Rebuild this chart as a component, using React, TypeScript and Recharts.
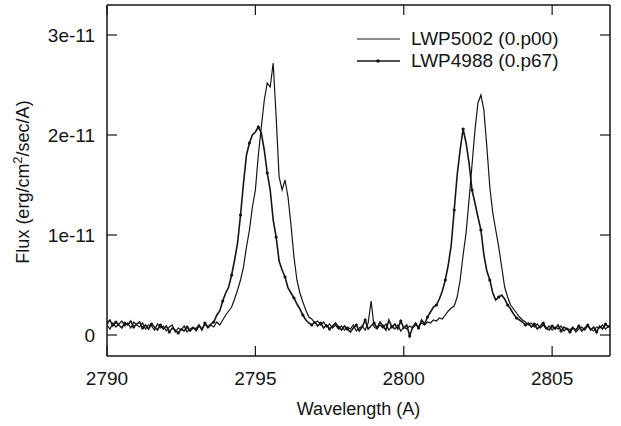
import React from "react";
import { LineChart, Line, XAxis, YAxis, Label } from "recharts";

// wavelength grid (Angstrom), 0.1 A sampling from 2790.0 to 2807.0
const wavelengthStart = 2790.0;
const wavelengthStep = 0.1;

// Flux in units of 1e-11 erg/cm^2/sec/A
const fluxLWP5002 = [
  0.10, 0.06, 0.12, 0.08, 0.11, 0.14, 0.09, 0.12, 0.07, 0.13,
  0.10, 0.08, 0.12, 0.06, 0.10, 0.09, 0.05, 0.11, 0.07, 0.09,
  0.04, 0.08, 0.10, 0.03, 0.07, 0.05, 0.09, 0.03, 0.06, 0.08,
  0.04, 0.09, 0.06, 0.11, 0.07, 0.10, 0.08, 0.13, 0.10, 0.15,
  0.20, 0.24, 0.28, 0.36, 0.45, 0.55, 0.68, 0.88, 1.05, 1.28,
  1.45, 1.80, 2.08, 2.35, 2.52, 2.48, 2.72, 2.18, 1.58, 1.45,
  1.55, 1.38, 1.10, 0.78, 0.55, 0.42, 0.33, 0.25, 0.18, 0.16,
  0.12, 0.14, 0.10, 0.13, 0.08, 0.11, 0.07, 0.10, 0.06, 0.09,
  0.05, 0.08, 0.06, 0.10, 0.04, 0.07, 0.09, 0.05, 0.12, 0.34,
  0.08, 0.06, 0.10, 0.07, 0.11, 0.05, 0.09, 0.06, 0.10, 0.04,
  0.08, 0.06, 0.09, 0.07, 0.10, 0.08, 0.12, 0.10, 0.13, 0.12,
  0.15, 0.14, 0.17, 0.16, 0.20, 0.24, 0.27, 0.29, 0.38, 0.55,
  0.80, 1.02, 1.35, 1.70, 2.05, 2.32, 2.40, 2.25, 1.88, 1.48,
  1.22, 1.05, 0.88, 0.68, 0.48, 0.38, 0.30, 0.26, 0.22, 0.18,
  0.15, 0.13, 0.10, 0.12, 0.08, 0.11, 0.07, 0.10, 0.06, 0.09,
  0.05, 0.08, 0.06, 0.09, 0.04, 0.07, 0.05, 0.08, 0.03, 0.06,
  0.08, 0.05, 0.09, 0.06, 0.04, 0.08, 0.07, 0.10, 0.06, 0.09,
  0.11,
];

const fluxLWP4988 = [
  0.12, 0.15, 0.09, 0.13, 0.10, 0.07, 0.12, 0.10, 0.14, 0.08,
  0.11, 0.13, 0.07, 0.10, 0.06, 0.11, 0.08, 0.05, 0.10, 0.06,
  0.09, 0.03, 0.07, 0.05, 0.02, 0.06, 0.04, 0.08, 0.04, 0.07,
  0.06, 0.10, 0.05, 0.12, 0.08, 0.11, 0.13, 0.20, 0.24, 0.34,
  0.42, 0.48, 0.60, 0.75, 0.92, 1.20, 1.52, 1.80, 1.92, 2.00,
  2.03, 2.08, 2.02, 1.85, 1.62, 1.45, 1.15, 0.98, 0.74, 0.65,
  0.58, 0.47, 0.42, 0.37, 0.31, 0.26, 0.20, 0.15, 0.12, 0.10,
  0.13, 0.09, 0.12, 0.07, 0.10, 0.06, 0.09, 0.12, 0.08, 0.05,
  0.09, 0.06, 0.03, 0.07, 0.10, 0.04, 0.08, 0.15, 0.06, 0.09,
  0.12, 0.07, 0.13, 0.09, 0.05, 0.15, 0.08, 0.11, 0.06, 0.14,
  0.07, 0.10, -0.01, 0.08, 0.12, 0.07, 0.15, 0.11, 0.18, 0.23,
  0.28, 0.30, 0.36, 0.44, 0.55, 0.70, 0.90, 1.25, 1.60, 1.85,
  2.06, 1.92, 1.72, 1.45, 1.32, 1.18, 1.05, 0.80, 0.64, 0.55,
  0.42, 0.35, 0.38, 0.40, 0.36, 0.30, 0.26, 0.21, 0.17, 0.15,
  0.13, 0.10, 0.12, 0.08, 0.11, 0.06, 0.09, 0.12, 0.07, 0.05,
  0.09, 0.06, 0.10, 0.04, 0.08, 0.06, 0.03, 0.07, 0.05, 0.09,
  0.04, 0.07, 0.10, 0.05, 0.08, 0.03, 0.09, 0.06, 0.11, 0.08,
  0.10,
];

const seriesNames = ["LWP5002 (0.p00)", "LWP4988 (0.p67)"];
const xTicks = [2790, 2795, 2800, 2805];
const yTicks = [0, 1, 2, 3];

const data = fluxLWP5002.map((v, i) => ({
  wl: +(wavelengthStart + i * wavelengthStep).toFixed(1),
  a: v,
  b: fluxLWP4988[i],
}));

const FONT = "'Liberation Sans', Arial, Helvetica, sans-serif";
const INK = "#151515";
const FS = 19;

const yFmt = (v: number) => (v === 0 ? "0" : `${v}e-11`);

const YTitle = () => {
  const cx = 29;
  const cy = 182;
  return (
    <text
      x={cx}
      y={cy}
      transform={`rotate(-90 ${cx} ${cy})`}
      textAnchor="middle"
      fontFamily={FONT}
      fontSize={18}
      fill={INK}
      style={{ fill: INK }}
    >
      <tspan>Flux (erg/cm</tspan>
      <tspan dy={-7} fontSize={13}>2</tspan>
      <tspan dy={7}>/sec/A)</tspan>
    </text>
  );
};

const renderDot = (props: any) => {
  const { cx, cy, index, key } = props;
  if (index % 3 !== 0 || cx == null || cy == null) return <g key={key ?? `d${index}`} />;
  return <circle key={key ?? `d${index}`} cx={cx} cy={cy} r={1.6} fill={INK} stroke="none" />;
};

const LegendBox = () => (
  <div
    style={{
      position: "absolute",
      left: 355,
      top: 28,
      fontFamily: FONT,
      fontSize: FS,
      color: INK,
      lineHeight: "22px",
    }}
  >
    {seriesNames.map((n, i) => (
      <div key={n} style={{ display: "flex", alignItems: "center", height: 22 }}>
        <svg width={56} height={22} style={{ display: "block" }}>
          <line x1={2} y1={11} x2={45} y2={11} stroke={INK} strokeWidth={i === 0 ? 1 : 1.6} />
          {i === 1 && <circle cx={23} cy={11} r={1.8} fill={INK} />}
        </svg>
        <span style={{ whiteSpace: "nowrap" }}>{n}</span>
      </div>
    ))}
  </div>
);

export default function App() {
  return (
    <div style={{ position: "absolute", left: 0, top: 0, width: 621, height: 426, background: "#fff" }}>
      <LineChart
        width={621}
        height={426}
        data={data}
        margin={{ top: 4, right: 10, bottom: 10, left: 47 }}
      >
        <XAxis
          dataKey="wl"
          type="number"
          domain={[2790, 2806.95]}
          allowDataOverflow
          ticks={xTicks}
          height={60}
          tickSize={-10}
          tickMargin={26}
          axisLine={{ stroke: INK, strokeWidth: 1.5 }}
          tickLine={{ stroke: INK, strokeWidth: 1.2 }}
          tick={{ fill: INK, fontSize: FS, fontFamily: FONT }}
        >
          <Label
            value="Wavelength (A)"
            position="insideBottom"
            offset={1}
            style={{ fill: INK, fontSize: 18, fontFamily: FONT }}
          />
        </XAxis>
        <XAxis
          xAxisId="top"
          orientation="top"
          dataKey="wl"
          type="number"
          domain={[2790, 2806.95]}
          allowDataOverflow
          ticks={xTicks}
          height={1}
          tickSize={-10}
          tickFormatter={() => ""}
          axisLine={{ stroke: INK, strokeWidth: 1.5 }}
          tickLine={{ stroke: INK, strokeWidth: 1.2 }}
        />
        <YAxis
          type="number"
          domain={[-0.21, 3.3]}
          allowDataOverflow
          ticks={yTicks}
          width={60}
          tickSize={-10}
          tickMargin={22}
          tickFormatter={yFmt}
          axisLine={{ stroke: INK, strokeWidth: 1.5 }}
          tickLine={{ stroke: INK, strokeWidth: 1.2 }}
          tick={{ fill: INK, fontSize: FS, fontFamily: FONT }}
        >
          <Label content={<YTitle />} />
        </YAxis>
        <YAxis
          yAxisId="right"
          orientation="right"
          type="number"
          domain={[-0.21, 3.3]}
          allowDataOverflow
          ticks={yTicks}
          width={1}
          tickSize={-10}
          tickFormatter={() => ""}
          axisLine={{ stroke: INK, strokeWidth: 1.5 }}
          tickLine={{ stroke: INK, strokeWidth: 1.2 }}
        />
        <Line
          dataKey="a"
          name={seriesNames[0]}
          type="linear"
          stroke={INK}
          strokeWidth={1.2}
          dot={false}
          isAnimationActive={false}
        />
        <Line
          dataKey="b"
          name={seriesNames[1]}
          type="linear"
          stroke={INK}
          strokeWidth={1.6}
          dot={renderDot}
          activeDot={false}
          isAnimationActive={false}
        />
      </LineChart>
      <LegendBox />
    </div>
  );
}
